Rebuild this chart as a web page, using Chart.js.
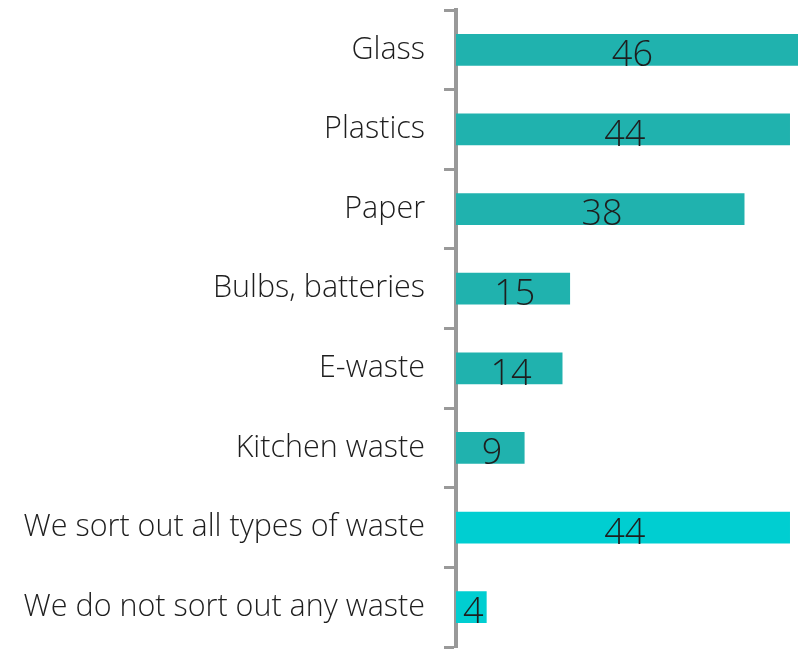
<!DOCTYPE html>
<html>
<head>
<meta charset="utf-8">
<script src="https://cdn.jsdelivr.net/npm/chart.js@4"></script>
<style>
  html, body { margin: 0; padding: 0; background: #fff; }
  #chartBox { width: 798px; height: 650px; }
</style>
</head>
<body>
<div id="chartBox"><canvas id="wasteChart" width="798" height="650"></canvas></div>
<script>
// Which types of waste are sorted (share of answers)
const categories = [
  "Glass",
  "Plastics",
  "Paper",
  "Bulbs, batteries",
  "E-waste",
  "Kitchen waste",
  "We sort out all types of waste",
  "We do not sort out any waste"
];
const values = [46, 44, 38, 15, 14, 9, 44, 4];
const barColors = [
  "#20b2ae", "#20b2ae", "#20b2ae", "#20b2ae", "#20b2ae", "#20b2ae",
  "#00ced1", "#00ced1"
];

const FONT = '"Open Sans", "Noto Sans", sans-serif';

// Draw the number in the middle of each bar
const valueLabels = {
  id: "valueLabels",
  afterDatasetsDraw(chart) {
    const ctx = chart.ctx;
    const meta = chart.getDatasetMeta(0);
    ctx.save();
    ctx.font = "300 36px " + FONT;
    ctx.fillStyle = "#1e1e1e";
    ctx.textAlign = "center";
    ctx.textBaseline = "middle";
    meta.data.forEach((bar, i) => {
      const cx = (bar.x + bar.base) / 2 + 2;
      ctx.fillText(String(values[i]), cx, bar.y + 6);
    });
    ctx.restore();
  }
};

new Chart(document.getElementById("wasteChart"), {
  type: "bar",
  data: {
    labels: categories,
    datasets: [
      {
        data: values,
        backgroundColor: barColors,
        borderWidth: 0,
        barThickness: 31
      }
    ]
  },
  options: {
    indexAxis: "y",
    responsive: false,
    animation: false,
    layout: { padding: { top: 10, bottom: 3, left: 0, right: 0 } },
    plugins: {
      legend: { display: false },
      tooltip: { enabled: false }
    },
    scales: {
      x: {
        display: false,
        min: 0,
        max: 45.1
      },
      y: {
        afterFit(scale) {
          // fixed label column, no extra room for half label heights
          scale.width = 456;
          scale.paddingTop = 0;
          scale.paddingBottom = 0;
        },
        border: { display: true, color: "#999999", width: 4 },
        grid: {
          offset: true,
          drawOnChartArea: false,
          drawTicks: true,
          tickLength: 12,
          tickWidth: 3,
          color: "#999999"
        },
        ticks: {
          color: "#1e1e1e",
          padding: 19,
          font: { family: FONT, size: 30.5, weight: 300 }
        }
      }
    }
  },
  plugins: [valueLabels]
});
</script>
</body>
</html>
